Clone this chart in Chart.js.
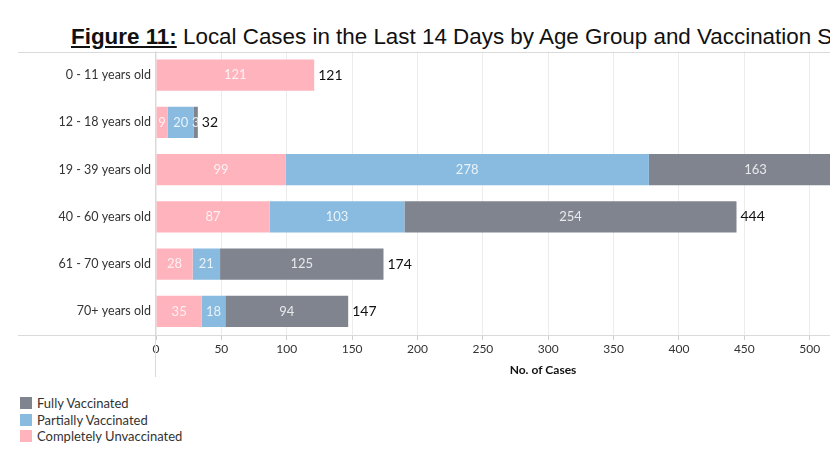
<!DOCTYPE html>
<html>
<head>
<meta charset="utf-8">
<script src="https://cdn.jsdelivr.net/npm/chart.js@4.4.0/dist/chart.umd.min.js"></script>
<style>
  html, body { margin: 0; padding: 0; background: #fff; overflow: hidden; }
  #wrap { position: relative; width: 830px; height: 468px; overflow: hidden; }
  #title {
    position: absolute; left: 71px; top: 24px; white-space: nowrap;
    font-family: "Liberation Sans", Arial, sans-serif; font-size: 22.4px; color: #111;
  }
  #title b { text-decoration: underline; }
  #chartBox { position: absolute; left: 0; top: 39px; }
  #chartBox canvas { display: block; }
  #legend { position: absolute; left: 20px; top: 395px; font-family: Lato, "Open Sans", sans-serif; font-size: 13px; color: #333; }
  .item { height: 16.5px; line-height: 16.5px; display: flex; align-items: center; }
  .sw { width: 12px; height: 12px; margin-right: 5px; }
</style>
</head>
<body>
<div id="wrap">
  <div id="title"><b>Figure 11:</b> Local Cases in the Last 14 Days by Age Group and Vaccination Status</div>
  <div id="chartBox"><canvas id="c" width="930" height="338"></canvas></div>
  <div id="legend"></div>
</div>
<script>
// values
const ageGroups = ["0 - 11 years old", "12 - 18 years old", "19 - 39 years old", "40 - 60 years old", "61 - 70 years old", "70+ years old"];
const unvaccinated = [121, 9, 99, 87, 28, 35];
const partially = [0, 20, 278, 103, 21, 18];
const fully = [0, 3, 163, 254, 125, 94];
const xTicksMax = 592;

const colors = {
  unvax: "#ffb3bc",
  partial: "#88bbdf",
  fully: "#7f848f",
};

// legend order as in the picture
const legendItems = [
  ["Fully Vaccinated", colors.fully],
  ["Partially Vaccinated", colors.partial],
  ["Completely Unvaccinated", colors.unvax],
];
const legend = document.getElementById("legend");
legendItems.forEach(([name, col]) => {
  const d = document.createElement("div");
  d.className = "item";
  d.innerHTML = '<span class="sw" style="background:' + col + '"></span>' + name;
  legend.appendChild(d);
});

const FONT = "Lato, 'Open Sans', sans-serif";

// segment values inside the bars and totals at the end
const barLabels = {
  id: "barLabels",
  afterDatasetsDraw(chart) {
    const ctx = chart.ctx;
    ctx.save();
    ctx.textBaseline = "middle";
    chart.data.datasets.forEach((ds, i) => {
      const meta = chart.getDatasetMeta(i);
      meta.data.forEach((bar, j) => {
        const v = ds.data[j];
        if (!v) return;
        ctx.font = "13px " + FONT;
        ctx.fillStyle = "rgba(255,255,255,0.82)";
        ctx.textAlign = "center";
        ctx.fillText(String(v), (bar.base + bar.x) / 2, bar.y);
      });
    });
    // totals
    const last = chart.getDatasetMeta(chart.data.datasets.length - 1);
    last.data.forEach((bar, j) => {
      const total = unvaccinated[j] + partially[j] + fully[j];
      ctx.font = "14px " + FONT;
      ctx.fillStyle = "#111";
      ctx.textAlign = "left";
      ctx.fillText(String(total), bar.x + 4, bar.y);
    });
    ctx.restore();
  },
};

// frame lines like the Tableau sheet
const frameLines = {
  id: "frameLines",
  afterDraw(chart) {
    const { ctx, chartArea } = chart;
    ctx.save();
    ctx.strokeStyle = "#dadada";
    ctx.lineWidth = 1;
    ctx.beginPath();
    ctx.moveTo(18, Math.round(chartArea.top) + 0.5);
    ctx.lineTo(chart.width, Math.round(chartArea.top) + 0.5);
    ctx.moveTo(18, Math.round(chartArea.bottom) + 0.5);
    ctx.lineTo(chart.width, Math.round(chartArea.bottom) + 0.5);
    ctx.moveTo(Math.round(chartArea.left) - 0.5, chartArea.top);
    ctx.lineTo(Math.round(chartArea.left) - 0.5, chartArea.bottom + 50);
    ctx.stroke();
    ctx.restore();
  },
};

new Chart(document.getElementById("c").getContext("2d"), {
  type: "bar",
  data: {
    labels: ageGroups,
    datasets: [
      { label: "Completely Unvaccinated", data: unvaccinated, backgroundColor: colors.unvax },
      { label: "Partially Vaccinated", data: partially, backgroundColor: colors.partial },
      { label: "Fully Vaccinated", data: fully, backgroundColor: colors.fully },
    ],
  },
  options: {
    indexAxis: "y",
    responsive: false,
    animation: false,
    devicePixelRatio: 1,
    barPercentage: 0.66,
    categoryPercentage: 1,
    layout: { padding: { top: 1, right: 0, left: 0, bottom: 0 } },
    plugins: {
      legend: { display: false },
      tooltip: { enabled: false },
    },
    scales: {
      x: {
        stacked: true,
        min: 0,
        max: xTicksMax,
        border: { display: false },
        grid: { color: "#ececec", tickLength: 5, drawTicks: true, tickColor: "#cfcfcf" },
        ticks: {
          stepSize: 50,
          includeBounds: false,
          maxRotation: 0,
          padding: 2,
          color: "#333",
          font: { family: FONT, size: 12 },
        },
        title: {
          display: true,
          text: "No. of Cases",
          color: "#111",
          font: { family: FONT, size: 12, weight: "bold" },
          padding: { top: 4, bottom: 0 },
        },
        afterFit(scale) { scale.height = 42; },
      },
      y: {
        stacked: true,
        border: { display: false },
        grid: { display: false, drawTicks: false, tickLength: 0 },
        ticks: {
          padding: 5,
          color: "#333",
          font: { family: FONT, size: 12.5 },
        },
        afterFit(scale) { scale.width = 156; },
      },
    },
  },
  plugins: [barLabels, frameLines],
});
</script>
</body>
</html>
